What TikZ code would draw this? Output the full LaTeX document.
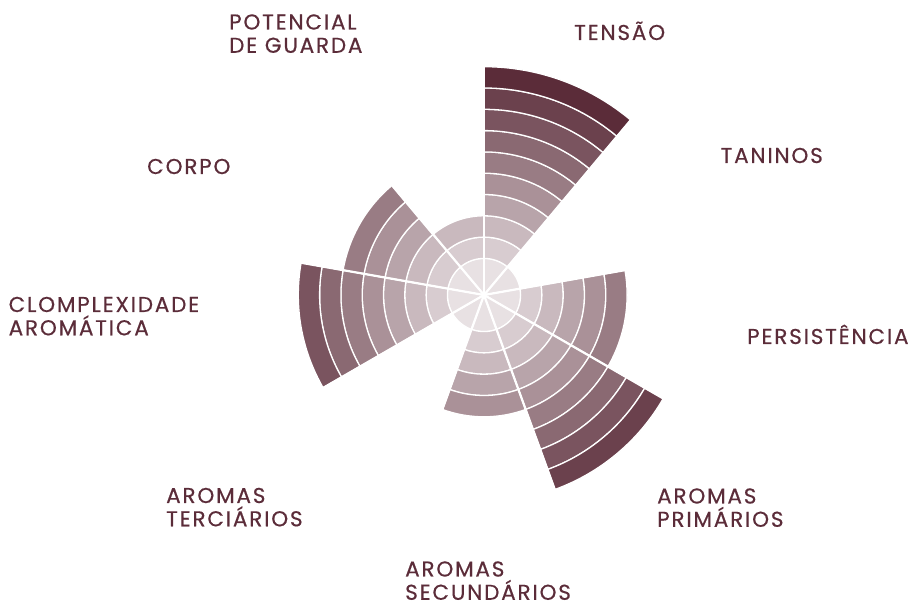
\documentclass[tikz,border=0pt]{standalone}
\usepackage{fontspec}
\setmainfont{Poppins}[LetterSpace=8.5, FakeBold=0.5]
\definecolor{wine}{HTML}{5B2C39}

\tikzset{
  lbl/.style={font=\fontsize{21.5}{23.3}\selectfont, text=wine, align=left,
    inner sep=0pt, anchor=base west},
  cell/.style={draw=white, line width=1.3pt},
  spoke/.style={draw=white, line width=2.2pt}
}

\begin{document}
\begin{tikzpicture}[x=1pt,y=1pt]
  \useasboundingbox (0,0) rectangle (915,602);
  \coordinate (c) at (484,307);
  % one sector of 40 degrees per value, clockwise from the top
  \foreach \v [count=\i] in {10,1,6,9,5,1,8,6,3} {
    \pgfmathsetmacro\a{130-40*\i}
    \foreach \k in {1,...,\v} {
      \pgfmathsetmacro\ro{15.3+21.3*\k}
      \pgfmathsetmacro\ri{\k==1 ? 0.01 : 15.3+21.3*(\k-1)}
      \pgfmathtruncatemacro\pc{5+9.5*\k}
      \fill[wine!\pc!white, cell] ([shift={(\a:\ro)}]c)
        arc[start angle=\a, end angle=\a-40, radius=\ro]
        -- ([shift={(\a-40:\ri)}]c)
        arc[start angle=\a-40, end angle=\a, radius=\ri] -- cycle;
    }
  }
  % spokes between sectors
  \foreach \b/\m in {90/10,50/10,10/6,-30/9,-70/9,-110/5,-150/8,170/8,130/6} {
    \pgfmathsetmacro\r{17.3+21.3*\m}
    \draw[spoke] (c) -- ([shift={(\b:\r)}]c);
  }
  % labels (two-line ones sit on their last baseline)
  \node[lbl] (tensao) at (574,562) {TENSÃO};
  \node[lbl] (taninos) at (720.5,439) {TANINOS};
  \node[lbl] (persist) at (747,258) {PERSISTÊNCIA};
  \node[lbl] (primarios) at (657,75.2) {AROMAS\\PRIMÁRIOS};
  \node[lbl, text depth=0pt] (secundarios) at (405,2.2) {AROMAS\\SECUNDÁRIOS};
  \node[lbl] (terciarios) at (166,75.7) {AROMAS\\TERCIÁRIOS};
  \node[lbl] (complex) at (8.5,266.7) {CLOMPLEXIDADE\\AROMÁTICA};
  \node[lbl] (corpo) at (147,428) {CORPO};
  \node[lbl] (guarda) at (229,549.2) {POTENCIAL\\DE GUARDA};
\end{tikzpicture}
\end{document}
